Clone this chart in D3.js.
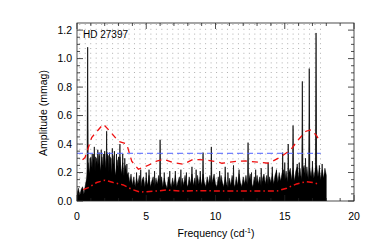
<!DOCTYPE html>
<html>
<head>
<meta charset="utf-8">
<script src="https://cdn.jsdelivr.net/npm/d3@7"></script>
<style>
  body { margin: 0; background: #fff; }
  text { font-family: "Liberation Sans", Arial, sans-serif; fill: #000; }
</style>
</head>
<body>
<svg id="chart" width="378" height="251"></svg>
<script>
// noise envelope of the amplitude spectrum, every 0.1 c/d from 0 to 18
const noiseStep = 0.1
const noiseTop = [
  0.05, 0.09, 0.04, 0.08, 0.10, 0.05, 0.11, 0.16,
  0.27, 0.19, 0.31, 0.22, 0.33, 0.20, 0.30, 0.24, 0.32, 0.21, 0.31, 0.23,
  0.33, 0.22, 0.34, 0.20, 0.31, 0.19, 0.32, 0.23, 0.18, 0.29,
  0.21, 0.31, 0.19, 0.27, 0.17, 0.25, 0.18, 0.20, 0.13, 0.19,
  0.11, 0.17, 0.10, 0.16, 0.12, 0.18, 0.09, 0.15, 0.17, 0.10,
  0.16, 0.11, 0.18, 0.10, 0.14, 0.17, 0.09, 0.16, 0.12, 0.18,
  0.12, 0.17, 0.10, 0.16, 0.12, 0.09, 0.17, 0.13, 0.10, 0.16,
  0.11, 0.18, 0.10, 0.14, 0.17, 0.09, 0.16, 0.11, 0.18, 0.12,
  0.10, 0.17, 0.12, 0.19, 0.11, 0.16, 0.10, 0.18, 0.12, 0.17,
  0.11, 0.19, 0.13, 0.10, 0.17, 0.12, 0.18, 0.11, 0.15, 0.19,
  0.12, 0.10, 0.17, 0.11, 0.18, 0.13, 0.10, 0.17, 0.12, 0.09,
  0.16, 0.11, 0.18, 0.12, 0.10, 0.17, 0.11, 0.19, 0.13, 0.10,
  0.17, 0.12, 0.18, 0.11, 0.15, 0.19, 0.12, 0.10, 0.17, 0.11,
  0.18, 0.12, 0.17, 0.10, 0.16, 0.19, 0.12, 0.18, 0.11, 0.17,
  0.13, 0.19, 0.12, 0.18, 0.21, 0.13, 0.20, 0.14, 0.19, 0.22,
  0.14, 0.21, 0.13, 0.20, 0.23, 0.15, 0.22, 0.14, 0.21, 0.24,
  0.16, 0.23, 0.15, 0.22, 0.25, 0.16, 0.24, 0.15, 0.23, 0.17,
  0.24, 0.16, 0.22, 0.25, 0.17, 0.23, 0.15, 0.22, 0.16, 0.23,
  0.18
]

// individual peaks: frequency (c/d) and amplitude (mmag)
const peakFreq = [0.77, 0.95, 1.1, 1.25, 1.35, 1.5, 1.6, 1.75, 1.9, 2.0,
  2.14, 2.25, 2.35, 2.45, 2.55, 2.7, 2.85, 3.0, 3.1, 3.3, 3.45, 3.6,
  4.3, 4.6, 5.0, 5.2, 5.6, 6.0, 6.3, 6.7, 7.1, 7.5, 7.9, 8.3, 8.6, 8.9,
  9.1, 9.7, 10.3, 10.7, 10.9, 11.3, 11.7, 12.35, 12.6, 12.9, 13.3, 13.8,
  14.1, 14.4, 14.85, 15.0, 15.25, 15.6, 15.9, 16.05, 16.27, 16.5, 16.77,
  17.0, 17.26, 17.5, 17.7]
const peakAmp = [1.08, 0.30, 0.33, 0.38, 0.31, 0.36, 0.34, 0.36, 0.33, 0.35,
  0.49, 0.32, 0.34, 0.30, 0.37, 0.35, 0.33, 0.31, 0.40, 0.33, 0.30, 0.26,
  0.20, 0.22, 0.20, 0.22, 0.21, 0.43, 0.20, 0.21, 0.21, 0.22, 0.20, 0.24, 0.22, 0.21,
  0.34, 0.38, 0.21, 0.24, 0.20, 0.25, 0.22, 0.41, 0.20, 0.22, 0.23, 0.27,
  0.24, 0.22, 0.34, 0.27, 0.40, 0.53, 0.26, 0.27, 0.84, 0.30, 0.93,
  0.28, 1.18, 0.25, 0.26]

// significance curve (dashed) and mean noise (dash-dot)
const sigFreq = [0.4, 0.58, 1.06, 1.9, 2.38, 2.98, 3.59, 3.95, 4.43, 5.03,
  5.75, 6.23, 6.95, 7.68, 8.4, 9.36, 10.09, 10.47, 11.34, 12.17, 13.1, 13.86,
  14.71, 15.43, 15.98, 16.53, 16.9, 17.29, 17.47]
const sigAmp = [0.29, 0.305, 0.446, 0.54, 0.49, 0.42, 0.40, 0.28, 0.223, 0.246,
  0.28, 0.293, 0.27, 0.258, 0.293, 0.287, 0.275, 0.265, 0.277, 0.281, 0.273, 0.265,
  0.31, 0.36, 0.43, 0.49, 0.50, 0.46, 0.43]
const noiseFreq = [0.45, 0.82, 1.42, 2.02, 2.62, 3.34, 3.95, 4.55, 5.75, 6.47,
  7.5, 9.0, 10.5, 12.0, 13.5, 14.44, 15.14, 15.86, 16.58, 17.06, 17.54]
const noiseAmp = [0.08, 0.094, 0.13, 0.146, 0.13, 0.113, 0.082, 0.063, 0.07, 0.077,
  0.07, 0.072, 0.07, 0.07, 0.07, 0.07, 0.09, 0.12, 0.136, 0.13, 0.115]

const blueLevel = 0.335
const blueEnd = 17.6

// dotted frequency markers
const markerStart = 0.2
const markerSpacing = 0.395
const markerCount = 45

const xTicks = [0, 5, 10, 15, 20]
const yTicks = [0.0, 0.2, 0.4, 0.6, 0.8, 1.0, 1.2]

const svg = d3.select('#chart')
const L = 77, R = 354, T = 23, B = 201

const x = d3.scaleLinear().domain([0, 20]).range([L, R])
const y = d3.scaleLinear().domain([0, 1.25]).range([B, T])

svg.append('defs').append('clipPath').attr('id', 'clip')
  .append('rect').attr('x', L).attr('y', T).attr('width', R - L).attr('height', B - T)
const plot = svg.append('g').attr('clip-path', 'url(#clip)')

// dotted markers
plot.selectAll('line.marker')
  .data(d3.range(markerCount).map((k) => markerStart + k * markerSpacing))
  .join('line')
  .attr('class', 'marker')
  .attr('x1', (d) => x(d)).attr('x2', (d) => x(d))
  .attr('y1', T + 1).attr('y2', B)
  .attr('stroke', '#9a9a9a')
  .attr('stroke-width', 0.8)
  .attr('stroke-dasharray', '1 3.8')

// noise area
const noisePts = noiseTop.map((v, i) => [i * noiseStep, v])
plot.append('path')
  .datum(noisePts)
  .attr('d', d3.area().x((d) => x(d[0])).y0(y(0)).y1((d) => y(d[1])))
  .attr('fill', '#000')
  .attr('stroke', '#000')
  .attr('stroke-width', 0.5)

// peaks
plot.selectAll('path.peak')
  .data(peakFreq.map((f, i) => [f, peakAmp[i]]))
  .join('path')
  .attr('class', 'peak')
  .attr('d', (d) => d3.line()([
    [x(d[0] - 0.05), y(0)], [x(d[0]), y(d[1])], [x(d[0] + 0.05), y(0)],
  ]))
  .attr('fill', '#000')
  .attr('stroke', '#000')
  .attr('stroke-width', 0.7)

// blue level
plot.append('line')
  .attr('x1', x(0)).attr('x2', x(blueEnd))
  .attr('y1', y(blueLevel)).attr('y2', y(blueLevel))
  .attr('stroke', '#4f62ff')
  .attr('stroke-width', 1)
  .attr('stroke-dasharray', '6 4')

// red curves
const curve = d3.line().x((d) => x(d[0])).y((d) => y(d[1]))
plot.append('path')
  .attr('d', curve(sigFreq.map((f, i) => [f, sigAmp[i]])))
  .attr('fill', 'none')
  .attr('stroke', '#ee1010')
  .attr('stroke-width', 1.3)
  .attr('stroke-dasharray', '6 5')
plot.append('path')
  .attr('d', curve(noiseFreq.map((f, i) => [f, noiseAmp[i]])))
  .attr('fill', 'none')
  .attr('stroke', '#ee1010')
  .attr('stroke-width', 1.5)
  .attr('stroke-dasharray', '6 3 1.5 3')

// frame and ticks
const axisColor = '#222'
svg.append('rect')
  .attr('x', L).attr('y', T).attr('width', R - L).attr('height', B - T)
  .attr('fill', 'none').attr('stroke', axisColor).attr('stroke-width', 0.8)

const xMinor = d3.range(0, 21, 1)
const yMinor = d3.range(0, 1.25, 0.05)
const ticks = svg.append('g').attr('stroke', axisColor).attr('stroke-width', 0.8)
xMinor.forEach((v) => {
  const len = v % 5 === 0 ? 6 : 3
  ticks.append('line').attr('x1', x(v)).attr('x2', x(v)).attr('y1', B).attr('y2', B - len)
  ticks.append('line').attr('x1', x(v)).attr('x2', x(v)).attr('y1', T).attr('y2', T + len)
})
yMinor.forEach((v, i) => {
  const len = i % 4 === 0 ? 6 : 3
  ticks.append('line').attr('x1', L).attr('x2', L + len).attr('y1', y(v)).attr('y2', y(v))
  ticks.append('line').attr('x1', R).attr('x2', R - len).attr('y1', y(v)).attr('y2', y(v))
})

svg.selectAll('text.xt')
  .data(xTicks)
  .join('text')
  .attr('class', 'xt')
  .attr('x', (d) => x(d)).attr('y', 220)
  .attr('text-anchor', 'middle')
  .attr('font-size', 10.5)
  .text((d) => d)

svg.selectAll('text.yt')
  .data(yTicks)
  .join('text')
  .attr('class', 'yt')
  .attr('x', 72).attr('y', (d) => y(d) + 3.8)
  .attr('text-anchor', 'end')
  .attr('font-size', 10.5)
  .text((d) => d.toFixed(1))

const xl = svg.append('text')
  .attr('x', 216).attr('y', 237)
  .attr('text-anchor', 'middle')
  .attr('font-size', 10.5)
xl.append('tspan').text('Frequency (cd')
xl.append('tspan').attr('dy', -4).attr('font-size', 7).text('-1')
xl.append('tspan').attr('dy', 4).text(')')

svg.append('text')
  .attr('transform', 'translate(47,113) rotate(-90)')
  .attr('text-anchor', 'middle')
  .attr('font-size', 10.5)
  .text('Amplitude (mmag)')

svg.append('text')
  .attr('x', 83).attr('y', 38)
  .attr('font-size', 10)
  .text('HD 27397')
</script>
</body>
</html>
